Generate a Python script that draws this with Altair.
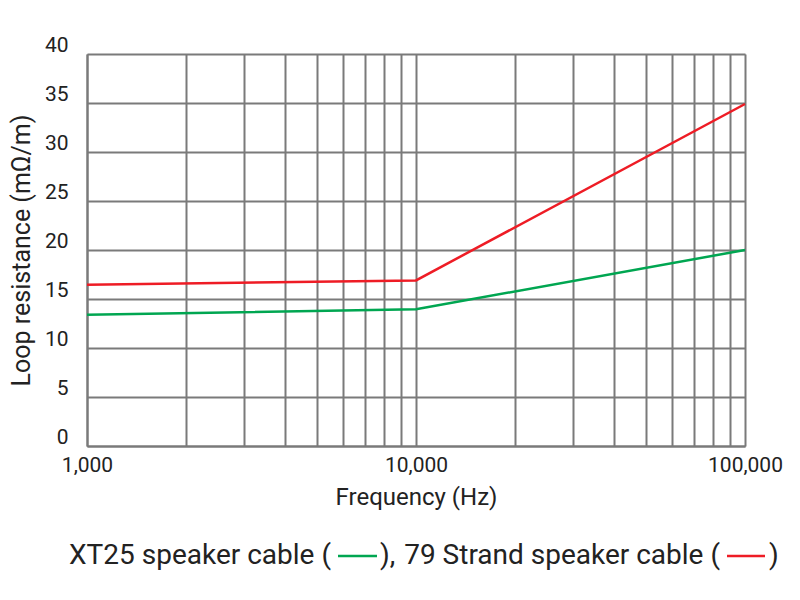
import altair as alt
import pandas as pd

freq = [1000, 10000, 100000]
xt25 = [13.4, 13.95, 20.0]
strand79 = [16.45, 16.9, 34.9]
series_names = ["XT25 speaker cable", "79 Strand speaker cable"]
colors = ["#00a651", "#ee1c25"]
grid_x = [m * 10**e for e in (3, 4) for m in range(1, 10)] + [100000]
y_ticks = list(range(0, 45, 5))

rows = []
for name, vals in zip(series_names, [xt25, strand79]):
    for f, v in zip(freq, vals):
        rows.append({"freq": f, "res": v, "series": name})
df = pd.DataFrame(rows)

FONT = "Roboto"
W, H = 658, 392

x_enc = alt.X(
    "freq:Q",
    scale=alt.Scale(type="log", domain=[1000, 100000]),
    axis=alt.Axis(
        values=grid_x,
        labelExpr="indexof([1000, 10000, 100000], datum.value) >= 0 ? format(datum.value, ',') : ''",
        title="Frequency (Hz)",
        grid=True,
        gridColor="#7a7a7a",
        gridWidth=2,
        domainColor="#7a7a7a",
        domainWidth=2,
        ticks=False,
        labelPadding=8,
        labelFontSize=21,
        labelColor="#222222",
        labelFont=FONT,
        labelFlush=False,
        titleFont=FONT,
        titleFontSize=24,
        titleFontWeight="normal",
        titleColor="#222222",
        titlePadding=10,
    ),
)
y_enc = alt.Y(
    "res:Q",
    scale=alt.Scale(domain=[0, 40]),
    axis=alt.Axis(
        values=y_ticks,
        title="Loop resistance (mΩ/m)",
        grid=True,
        gridColor="#7a7a7a",
        gridWidth=2,
        domainColor="#7a7a7a",
        domainWidth=2,
        ticks=False,
        labelPadding=19,
        labelOffset=-9,
        labelFontSize=21,
        labelColor="#222222",
        labelFont=FONT,
        titleFont=FONT,
        titleFontSize=25,
        titleFontWeight="normal",
        titleColor="#222222",
        titlePadding=10,
    ),
)

lines = alt.Chart(df).mark_line(strokeWidth=2.5).encode(
    x=x_enc,
    y=y_enc,
    color=alt.Color("series:N", scale=alt.Scale(domain=series_names, range=colors), legend=None),
)

LY = 502
tstyle = dict(font=FONT, fontSize=28, color="#222222", baseline="middle")
t1 = alt.Chart().mark_text(align="right", **tstyle).encode(
    x=alt.value(331 - 87), y=alt.value(LY), text=alt.value("XT25 speaker cable (")
)
l1 = alt.Chart().mark_rule(color=colors[0], strokeWidth=2.5).encode(
    x=alt.value(338 - 87), x2=alt.value(377 - 87), y=alt.value(LY)
)
t2 = alt.Chart().mark_text(align="left", **tstyle).encode(
    x=alt.value(380 - 87), y=alt.value(LY), text=alt.value("),")
)
t3 = alt.Chart().mark_text(align="right", **tstyle).encode(
    x=alt.value(720 - 87), y=alt.value(LY), text=alt.value("79 Strand speaker cable (")
)
l2 = alt.Chart().mark_rule(color=colors[1], strokeWidth=2.5).encode(
    x=alt.value(727 - 87), x2=alt.value(765 - 87), y=alt.value(LY)
)
t4 = alt.Chart().mark_text(align="left", **tstyle).encode(
    x=alt.value(769 - 87), y=alt.value(LY), text=alt.value(")")
)

chart = (
    alt.layer(lines, t1, l1, t2, t3, l2, t4)
    .properties(
        width=W,
        height=H,
        autosize=alt.AutoSizeParams(type="none"),
        padding={"left": 79, "top": 46, "right": 47, "bottom": 138},
    )
    .configure_view(stroke=None)
    .configure(background="white")
)

chart.save("out.html", embed_options={"renderer": "svg", "actions": False})
